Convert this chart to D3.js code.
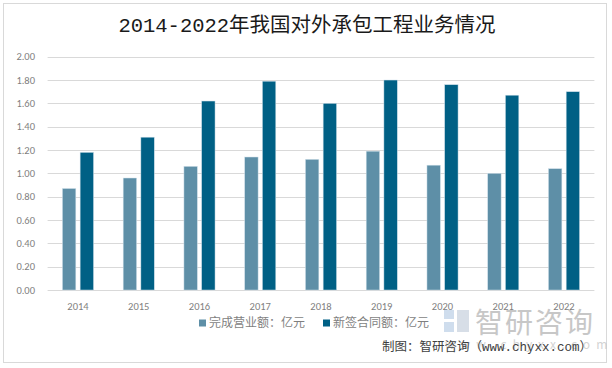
<!DOCTYPE html>
<html><head><meta charset="utf-8">
<script src="https://cdn.jsdelivr.net/npm/d3@7"></script>
<style>body{margin:0;background:#fff}svg{display:block}</style>
</head><body><svg id="c" width="612" height="368"></svg>
<script>
const years = ["2014","2015","2016","2017","2018","2019","2020","2021","2022"];
const completed = [0.87,0.96,1.06,1.14,1.12,1.19,1.07,1.00,1.04];
const signed = [1.18,1.31,1.62,1.79,1.60,1.80,1.76,1.67,1.70];
const seriesNames = ["完成营业额：亿元","新签合同额：亿元"];
const yTicks = [0,0.2,0.4,0.6,0.8,1.0,1.2,1.4,1.6,1.8,2.0];
const titleText = "2014-2022年我国对外承包工程业务情况";
const footerText = "制图：智研咨询（www.chyxx.com）";
const colors = ["#5E8FA7","#006085"];

const svg = d3.select("#c");
const cjk = "'Noto Sans CJK SC', sans-serif";
const song = "'Liberation Mono', 'Noto Sans CJK SC', monospace";
svg.append("rect").attr("x",3.5).attr("y",3.5).attr("width",603).attr("height",359)
  .attr("fill","#fff").attr("stroke","#d9d9d9").attr("stroke-width",1);

const x = d3.scaleBand().domain(years).range([47.6,594.4]);
const y = d3.scaleLinear().domain([0,2]).range([290,56.7]);

// gridlines
svg.append("g").selectAll("line").data(yTicks).join("line")
  .attr("x1",47.6).attr("x2",594.4)
  .attr("y1",d=>Math.round(y(d))+0.5).attr("y2",d=>Math.round(y(d))+0.5)
  .attr("stroke","#d9d9d9").attr("stroke-width",1);

// y labels
svg.append("g").selectAll("text").data(yTicks).join("text")
  .attr("x",35).attr("y",d=>y(d)).attr("dy","0.35em").attr("text-anchor","end")
  .attr("font-family","Calibri, 'Liberation Sans', sans-serif").attr("font-size",10.5).attr("fill","#7f7f7f")
  .text(d=>d3.format(".2f")(d));

// x labels
svg.append("g").selectAll("text").data(years).join("text")
  .attr("x",d=>x(d)+x.bandwidth()/2).attr("y",306).attr("dy","0.35em").attr("text-anchor","middle")
  .attr("font-family","Calibri, 'Liberation Sans', sans-serif").attr("font-size",10.5).attr("fill","#7f7f7f")
  .text(d=>d);

const bw = 13.4, gap = 4.3;
const sub = d3.scaleOrdinal().domain([0,1]).range([-(bw+gap/2), gap/2]);
[completed, signed].forEach((vals,si)=>{
  svg.append("g").selectAll("rect").data(vals).join("rect")
    .attr("x",(d,i)=>x(years[i])+x.bandwidth()/2+sub(si))
    .attr("y",d=>y(d)).attr("width",bw).attr("height",d=>y(0)-y(d))
    .attr("fill",colors[si]).attr("stroke","#cfe0ea").attr("stroke-width",0.5);
});

// title
svg.append("text").attr("x",307).attr("y",25).attr("dy","0.35em").attr("text-anchor","middle")
  .attr("font-family",song).attr("font-size",20.5).attr("fill","#1a1a1a")
  .text(titleText);

// watermark
const wm = svg.append("g").attr("opacity",0.55);
wm.append("rect").attr("x",444).attr("y",310).attr("width",10).attr("height",9).attr("fill","#a9c3e0");
wm.append("rect").attr("x",444).attr("y",322).attr("width",10).attr("height",10).attr("fill","#a9c3e0");
wm.append("rect").attr("x",457).attr("y",310).attr("width",12).attr("height",22).attr("fill","#b8c4d4");
wm.append("text").attr("x",475).attr("y",323).attr("dy","0.35em").attr("font-family",cjk)
  .attr("font-size",28).attr("fill","#9a9a9a").attr("letter-spacing",2).text("智研咨询");
wm.append("text").attr("x",445).attr("y",345).attr("dy","0.35em").attr("font-family",cjk)
  .attr("font-size",12).attr("fill","#b0b0b0").attr("letter-spacing",6).text("www.chyxx.com");

// legend
const lg = svg.append("g");
const lx = [199, 323];
seriesNames.forEach((n,i)=>{
  lg.append("rect").attr("x",lx[i]).attr("y",319.5).attr("width",7).attr("height",7).attr("fill",colors[i]);
  lg.append("text").attr("x",lx[i]+10).attr("y",323).attr("dy","0.35em").attr("font-family",song)
    .attr("font-size",12).attr("fill","#7f7f7f").text(n);
});

// footer
svg.append("text").attr("x",592).attr("y",347).attr("dy","0.35em").attr("text-anchor","end")
  .attr("font-family",song).attr("font-size",12.5).attr("fill","#404040")
  .text(footerText);
</script></body></html>
